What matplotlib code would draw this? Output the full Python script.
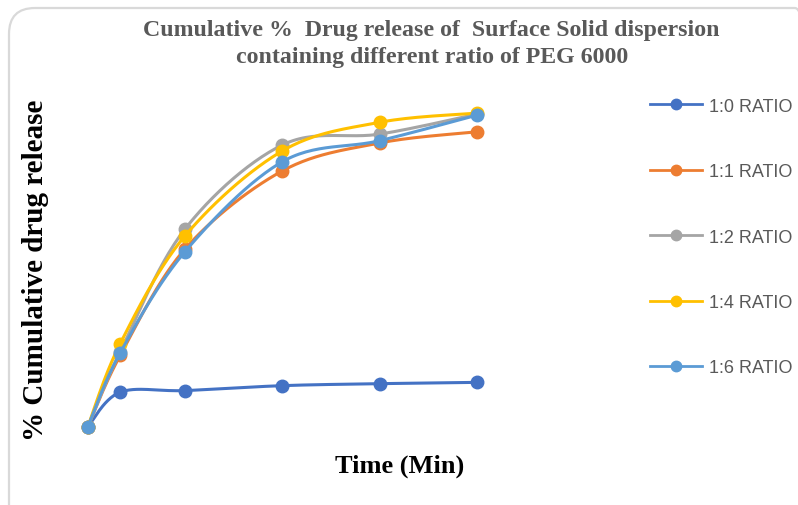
import numpy as np
import matplotlib
matplotlib.use('Agg')
import matplotlib.pyplot as plt
from matplotlib.patches import FancyBboxPatch

# Dissolution data: cumulative % drug released vs time (min)
time_min = [0, 5, 15, 30, 45, 60]
ratio_labels = ['1:0 RATIO', '1:1 RATIO', '1:2 RATIO', '1:4 RATIO', '1:6 RATIO']
release_1_0 = [0, 10.6, 11.1, 12.6, 13.2, 13.6]
release_1_1 = [0, 21.8, 54.3, 78.1, 86.6, 90.0]
release_1_2 = [0, 22.9, 60.4, 86.0, 89.3, 95.4]
release_1_4 = [0, 25.4, 58.3, 84.2, 92.9, 95.7]
release_1_6 = [0, 22.6, 53.5, 80.9, 87.3, 95.1]

COLORS = ['#4472C4', '#ED7D31', '#A5A5A5', '#FFC000', '#5B9BD5']
TEXT_GRAY = '#595959'


def smooth(x, y, n=30):
    """Catmull-Rom style cubic Bezier through the points (spreadsheet 'smoothed line')."""
    x = np.asarray(x, float)
    y = np.asarray(y, float)
    px = np.concatenate([[x[0]], x, [x[-1]]])
    py = np.concatenate([[y[0]], y, [y[-1]]])
    xs, ys = [], []
    t = np.linspace(0, 1, n)
    for i in range(1, len(px) - 2):
        p0 = np.array([px[i], py[i]])
        p3 = np.array([px[i + 1], py[i + 1]])
        p1 = p0 + (np.array([px[i + 1], py[i + 1]]) - np.array([px[i - 1], py[i - 1]])) / 6
        p2 = p3 - (np.array([px[i + 2], py[i + 2]]) - np.array([px[i], py[i]])) / 6
        b = ((1 - t) ** 3)[:, None] * p0 + (3 * (1 - t) ** 2 * t)[:, None] * p1 \
            + (3 * (1 - t) * t ** 2)[:, None] * p2 + (t ** 3)[:, None] * p3
        xs.extend(b[:, 0])
        ys.extend(b[:, 1])
    return np.array(xs), np.array(ys)


fig = plt.figure(figsize=(7.98, 5.06), dpi=100)

# rounded chart-area border (display pixels, origin bottom-left)
border = FancyBboxPatch((9, -30), 812, 527, boxstyle='round,pad=0,rounding_size=26',
                        transform=None, fc='none', ec='#D9D9D9', lw=1.6, zorder=-1)
fig.patches.append(border)

ax = fig.add_axes([0.1099, 0.1542, 0.4882, 0.6482])
ax.set_xlim(0, 60)
ax.set_ylim(0, 100)
ax.axis('off')

series = [release_1_0, release_1_1, release_1_2, release_1_4, release_1_6]
for vals, lab, col in zip(series, ratio_labels, COLORS):
    sx, sy = smooth(time_min, vals)
    ax.plot(sx, sy, color=col, lw=2.2, clip_on=False, solid_capstyle='round')
    ax.plot(time_min, vals, 'o', color=col, ms=9, clip_on=False)
    ax.plot([], [], '-o', color=col, lw=2.0, ms=7.5, label=lab)

fig.text(0.541, 0.940, 'Cumulative %  Drug release of  Surface Solid dispersion',
         ha='center', va='center', fontsize=17.2, fontweight='bold',
         family='Liberation Serif', color=TEXT_GRAY)
fig.text(0.541, 0.886, 'containing different ratio of PEG 6000',
         ha='center', va='center', fontsize=17.2, fontweight='bold',
         family='Liberation Serif', color=TEXT_GRAY)

fig.text(0.044, 0.466, '% Cumulative drug release', rotation=90,
         ha='center', va='center', fontsize=21, fontweight='bold',
         family='Liberation Serif', color='black')
fig.text(0.501, 0.079, 'Time (Min)', ha='center', va='center',
         fontsize=19, fontweight='bold', family='Liberation Serif', color='black')

leg = fig.legend(loc='upper left', bbox_to_anchor=(0.7945, 0.837), frameon=False,
                 labelspacing=2.68, handlelength=2.88, handletextpad=0.39,
                 prop={'family': 'Liberation Sans', 'size': 13})
for t in leg.get_texts():
    t.set_color(TEXT_GRAY)

fig.savefig('out.png', dpi=100)
